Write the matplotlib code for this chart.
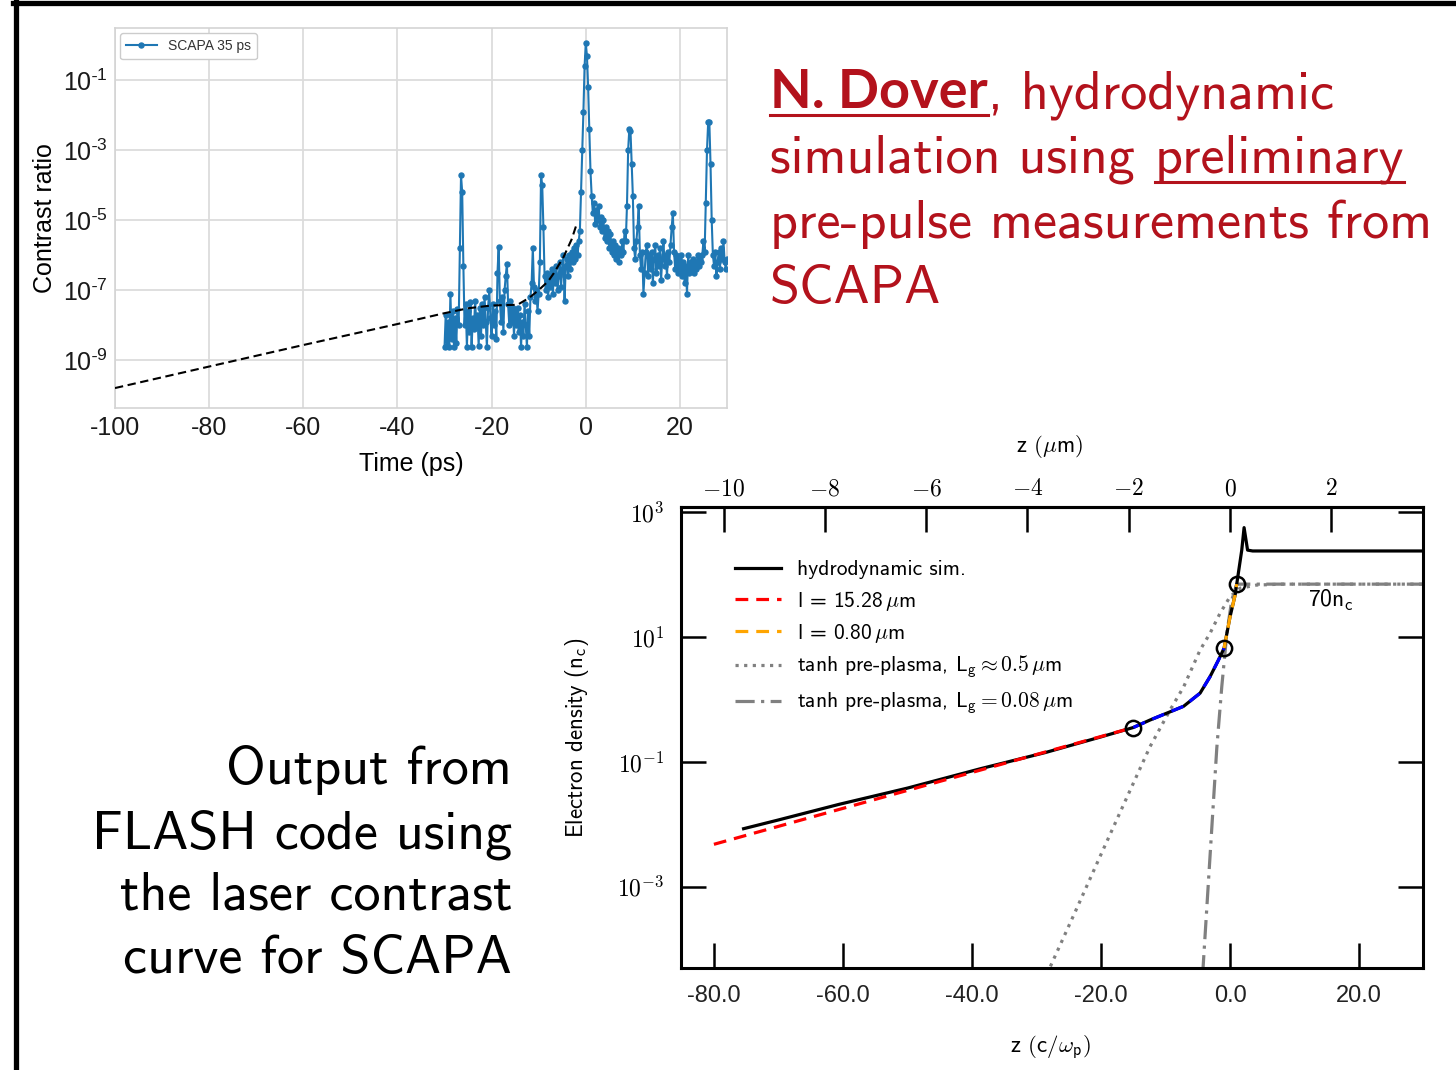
import numpy as np
import matplotlib
matplotlib.use('Agg')
import matplotlib.pyplot as plt
from matplotlib.lines import Line2D
from matplotlib.ticker import FixedLocator, FixedFormatter, FuncFormatter, NullLocator

# ---------------- data: top chart (SCAPA contrast) ----------------
time_ps = [
    -30.00, -29.75, -29.50, -29.25, -29.00, -28.75, -28.50, -28.25,
    -28.00, -27.75, -27.50, -27.25, -27.00, -26.75, -26.50, -26.25,
    -26.00, -25.75, -25.50, -25.25, -25.00, -24.75, -24.50, -24.25,
    -24.00, -23.75, -23.50, -23.25, -23.00, -22.75, -22.50, -22.25,
    -22.00, -21.75, -21.50, -21.25, -21.00, -20.75, -20.50, -20.25,
    -20.00, -19.75, -19.50, -19.25, -19.00, -18.75, -18.50, -18.25,
    -18.00, -17.75, -17.50, -17.25, -17.00, -16.75, -16.50, -16.25,
    -16.00, -15.75, -15.50, -15.25, -15.00, -14.75, -14.50, -14.25,
    -14.00, -13.75, -13.50, -13.25, -13.00, -12.75, -12.50, -12.25,
    -12.00, -11.75, -11.50, -11.25, -11.00, -10.75, -10.50, -10.25,
    -10.00, -9.75, -9.50, -9.25, -9.00, -8.75, -8.50, -8.25,
    -8.00, -7.75, -7.50, -7.25, -7.00, -6.75, -6.50, -6.25,
    -6.00, -5.75, -5.50, -5.25, -5.00, -4.75, -4.50, -4.25,
    -4.00, -3.75, -3.50, -3.25, -3.00, -2.75, -2.50, -2.25,
    -2.00, -1.75, -1.50, -1.25, -1.00, -0.75, -0.50, -0.25,
    0.00, 0.25, 0.50, 0.75, 1.00, 1.25, 1.50, 1.75,
    2.00, 2.25, 2.50, 2.75, 3.00, 3.25, 3.50, 3.75,
    4.00, 4.25, 4.50, 4.75, 5.00, 5.25, 5.50, 5.75,
    6.00, 6.25, 6.50, 6.75, 7.00, 7.25, 7.50, 7.75,
    8.00, 8.25, 8.50, 8.75, 9.00, 9.25, 9.50, 9.75,
    10.00, 10.25, 10.50, 10.75, 11.00, 11.25, 11.50, 11.75,
    12.00, 12.25, 12.50, 12.75, 13.00, 13.25, 13.50, 13.75,
    14.00, 14.25, 14.50, 14.75, 15.00, 15.25, 15.50, 15.75,
    16.00, 16.25, 16.50, 16.75, 17.00, 17.25, 17.50, 17.75,
    18.00, 18.25, 18.50, 18.75, 19.00, 19.25, 19.50, 19.75,
    20.00, 20.25, 20.50, 20.75, 21.00, 21.25, 21.50, 21.75,
    22.00, 22.25, 22.50, 22.75, 23.00, 23.25, 23.50, 23.75,
    24.00, 24.25, 24.50, 24.75, 25.00, 25.25, 25.50, 25.75,
    26.00, 26.25, 26.50, 26.75, 27.00, 27.25, 27.50, 27.75,
    28.00, 28.25, 28.50, 28.75, 29.00, 29.25, 29.50, 29.75,
    30.00,
]
contrast_log10 = [
    -8.62, -7.70, -8.60, -7.90, -8.62, -7.10, -8.40, -7.60,
    -8.62, -7.80, -8.50, -7.55, -8.00, -5.80, -3.72, -4.20,
    -6.30, -8.00, -7.40, -8.62, -7.60, -8.20, -7.35, -8.62,
    -7.80, -8.10, -7.30, -8.00, -7.70, -8.60, -7.50, -8.30,
    -7.40, -8.00, -7.20, -7.90, -8.62, -7.50, -7.00, -7.80,
    -8.30, -7.40, -8.00, -7.60, -8.40, -6.50, -5.76, -7.30,
    -7.90, -7.20, -8.20, -7.00, -6.60, -6.25, -7.40, -8.00,
    -7.30, -7.90, -7.50, -8.30, -7.60, -8.00, -7.50, -8.20,
    -7.70, -8.62, -7.90, -8.30, -7.40, -8.00, -8.62, -7.60,
    -8.30, -7.20, -6.80, -5.80, -6.90, -7.30, -7.00, -7.60,
    -7.10, -6.20, -3.72, -4.00, -5.20, -6.60, -7.00, -6.50,
    -7.20, -6.60, -6.90, -6.40, -7.10, -6.50, -6.80, -6.30,
    -7.00, -6.60, -6.20, -6.90, -6.40, -6.00, -7.30, -6.30,
    -6.10, -6.60, -6.00, -6.40, -5.90, -6.20, -5.80, -6.10,
    -5.70, -6.00, -5.60, -5.30, -4.20, -3.00, -1.90, -0.60,
    0.06, -0.30, -1.20, -2.40, -3.60, -4.30, -4.80, -4.50,
    -5.10, -4.70, -5.00, -4.60, -5.20, -4.90, -5.30, -5.00,
    -5.50, -5.20, -5.60, -5.30, -5.80, -5.40, -5.90, -5.60,
    -6.00, -5.70, -6.10, -5.80, -6.20, -5.90, -6.00, -5.60,
    -5.90, -5.30, -5.60, -4.60, -3.00, -2.40, -2.45, -3.40,
    -4.30, -5.80, -6.10, -5.60, -5.20, -4.60, -6.00, -6.40,
    -5.90, -7.10, -6.50, -5.90, -5.70, -6.60, -6.00, -6.40,
    -5.90, -6.80, -6.10, -5.70, -6.50, -6.00, -6.30, -5.80,
    -6.70, -6.10, -5.60, -6.30, -6.00, -6.60, -5.90, -6.20,
    -5.70, -5.20, -4.80, -5.90, -6.40, -6.00, -6.50, -6.10,
    -6.40, -6.00, -6.60, -6.20, -6.80, -6.30, -7.10, -6.00,
    -6.50, -6.20, -6.40, -6.10, -6.50, -6.20, -6.40, -6.00,
    -6.30, -6.10, -6.20, -6.00, -5.60, -5.90, -4.50, -3.00,
    -2.20, -2.20, -3.40, -5.00, -6.00, -6.30, -5.90, -6.60,
    -6.20, -5.90, -6.40, -5.80, -6.10, -5.60, -6.20, -6.40,
    -6.10,
]
envelope_t = [-100, -60, -40, -30, -25, -20, -14.5, -12, -10, -8, -6.8, -4.7, -3, -1.8]
envelope_log10 = [-9.80, -8.57, -7.97, -7.66, -7.52, -7.44, -7.42, -7.22, -7.00,
                  -6.75, -6.52, -6.05, -5.55, -5.06]
top_xticks = [-100, -80, -60, -40, -20, 0, 20]
top_xticklabels = ['-100', '-80', '-60', '-40', '-20', '0', '20']
top_ytick_exp = [-1, -3, -5, -7, -9]

# ---------------- data: bottom chart (FLASH density profile) ----------------
hydro_z = [-75.4, -70, -60.6, -50, -38.7, -28.6, -20, -15, -12.4, -9.8, -7.2, -4.65,
           -3.1, -1.8, -0.93, 0, 0.78, 1.03, 1.81, 2.17, 2.71, 3.5, 30]
hydro_log10 = [-2.07, -1.93, -1.68, -1.42, -1.11, -0.85, -0.60, -0.45, -0.33, -0.22,
               -0.11, 0.10, 0.365, 0.63, 0.82, 1.325, 1.67, 1.845, 2.39, 2.75, 2.39,
               2.376, 2.376]
red_z = [-80, -15]
red_log10 = [-2.32, -0.45]
blue_z = [-15, -12.4, -9.8, -7.2, -4.65, -3.1, -1.8, -0.93]
blue_log10 = [-0.45, -0.33, -0.22, -0.11, 0.10, 0.365, 0.63, 0.82]
orange_z = [-0.93, 0, 0.78, 1.03]
orange_log10 = [0.82, 1.325, 1.67, 1.845]
tanh05_z = [-28.4, -24, -20, -16, -12.4, -9.3, -7.2, -4.65, -3.1, -1.55, 0, 1.55, 4.1, 8, 30]
tanh05_log10 = [-4.40, -3.40, -2.48, -1.57, -0.755, -0.17, 0.20, 0.79, 1.06, 1.38,
                1.645, 1.78, 1.83, 1.845, 1.845]
tanh008_z = [-4.25, -2.06, -1.29, -0.5, 0.26, 1.03, 30]
tanh008_log10 = [-4.40, -0.78, 0.20, 1.06, 1.59, 1.845, 1.845]
circle_z = [-15, -0.93, 1.03]
circle_log10 = [-0.45, 0.82, 1.845]
bot_xticks = [-80, -60, -40, -20, 0, 20]
bot_xticklabels = ['-80.0', '-60.0', '-40.0', '-20.0', '0.0', '20.0']
bot_ytick_exp = [3, 1, -1, -3]
um_ticks = [-10, -8, -6, -4, -2, 0, 2]
cwp_per_um = 7.85

# ---------------- figure ----------------
W, H = 1456, 1070
plt.rcParams['mathtext.fontset'] = 'cm'
plt.rcParams['axes.unicode_minus'] = False
fig = plt.figure(figsize=(W / 100, H / 100), dpi=100)
fig.patch.set_facecolor('white')


def fx(px):
    return px / W


def fy(py):
    return 1 - py / H


# ---- top axes ----
ax1 = fig.add_axes([fx(115), fy(408), (727 - 115) / W, (408 - 28) / H])
ax1.set_facecolor('white')
ax1.set_axisbelow(True)
ax1.plot(time_ps, np.power(10.0, contrast_log10), '-o', color='#1f77b4', lw=1.5,
         ms=3.6, label='SCAPA 35 ps', zorder=3)
ax1.plot(envelope_t, np.power(10.0, envelope_log10), color='black', lw=1.5,
         linestyle=(0, (4, 2.2)), zorder=4)
ax1.set_yscale('log')
ax1.set_xlim(-100, 30)
ax1.set_ylim(10 ** -10.37, 10 ** 0.49)
ax1.xaxis.set_major_locator(FixedLocator(top_xticks))
ax1.xaxis.set_major_formatter(FixedFormatter(top_xticklabels))
ax1.yaxis.set_major_locator(FixedLocator([10.0 ** e for e in top_ytick_exp]))
ax1.yaxis.set_major_formatter(FixedFormatter(
    [r'$\mathregular{10^{\text{-}%d}}$' % (-e) for e in top_ytick_exp]))
ax1.yaxis.set_minor_locator(NullLocator())
ax1.grid(True, color='#dcdcdc', lw=1.3)
for sp in ax1.spines.values():
    sp.set_color('#d4d4d4')
    sp.set_linewidth(1.2)
ax1.tick_params(axis='x', length=0, labelsize=18, pad=6, labelcolor='#1a1a1a',
                labelfontfamily='Liberation Sans')
ax1.tick_params(axis='y', length=0, labelsize=18, pad=5, labelcolor='#1a1a1a',
                labelfontfamily='Liberation Sans')
ax1.set_xlabel('Time (ps)', fontsize=18, family='Liberation Sans', va='center')
ax1.xaxis.set_label_coords((411 - 115) / 612, -(464 - 408) / 380)
ax1.set_ylabel('Contrast ratio', fontsize=18, family='Liberation Sans', va='center')
ax1.yaxis.set_label_coords((45 - 115) / 612, 0.5)
leg1 = ax1.legend(loc='upper left', prop={'family': 'Liberation Sans', 'size': 10},
                  frameon=True, fancybox=True, edgecolor='#cccccc', framealpha=1,
                  borderaxespad=0.35, handlelength=2.2, numpoints=1, borderpad=0.45)
for t in leg1.get_texts():
    t.set_color('#333333')

# ---- bottom axes ----
ax2 = fig.add_axes([fx(681), fy(968), (1423 - 681) / W, (968 - 507) / H])
ax2.set_yscale('log')
lw = 2.3
lab_hydro = 'hydrodynamic sim.'
lab_red = r'l = 15.28$\,\mu$m'
lab_orange = r'l = 0.80$\,\mu$m'
lab_t05 = r'tanh pre-plasma, $\mathsf{L_g} \approx 0.5\,\mu$m'
lab_t008 = r'tanh pre-plasma, $\mathsf{L_g} = 0.08\,\mu$m'
ax2.plot(tanh05_z, np.power(10.0, tanh05_log10), color='#808080', lw=lw,
         linestyle=(0, (1, 1.7)), label=lab_t05, zorder=2)
ax2.plot(tanh008_z, np.power(10.0, tanh008_log10), color='#808080', lw=lw,
         linestyle=(0, (6, 2, 1, 2)), label=lab_t008, zorder=2)
ax2.plot(hydro_z, np.power(10.0, hydro_log10), color='black', lw=lw,
         label=lab_hydro, zorder=3)
ax2.plot(red_z, np.power(10.0, red_log10), color='#ff0000', lw=lw,
         linestyle=(0, (4, 2.5)), label=lab_red, zorder=4)
ax2.plot(blue_z, np.power(10.0, blue_log10), color='#0000ff', lw=lw,
         linestyle=(0, (4, 2.5)), zorder=4)
ax2.plot(orange_z, np.power(10.0, orange_log10), color='#ffa500', lw=lw,
         linestyle=(0, (4, 2.5)), label=lab_orange, zorder=4)
ax2.plot(circle_z, np.power(10.0, circle_log10), 'o', mfc='none', mec='black',
         ms=11, mew=1.8, zorder=5)
ax2.text(12.0, 10 ** 1.59, r'70n$_\mathsf{c}$', fontsize=17, family='cmss10',
         va='center', ha='left')
ax2.set_xlim(-85.1, 29.9)
ax2.set_ylim(10 ** -4.3, 10 ** 3.08)
ax2.xaxis.set_major_locator(FixedLocator(bot_xticks))
ax2.xaxis.set_major_formatter(FixedFormatter(bot_xticklabels))
ax2.yaxis.set_major_locator(FixedLocator([10.0 ** e for e in bot_ytick_exp]))
ax2.yaxis.set_major_formatter(FixedFormatter([r'$10^{%d}$' % e for e in bot_ytick_exp]))
ax2.yaxis.set_minor_locator(NullLocator())
ax2.xaxis.set_minor_locator(NullLocator())
for sp in ax2.spines.values():
    sp.set_linewidth(2.2)
ax2.tick_params(axis='both', direction='in', length=18, width=1.8, right=True,
                top=False)
ax2.tick_params(axis='x', labelsize=17, pad=12, labelfontfamily='Liberation Sans',
                labelcolor='#222222')
ax2.tick_params(axis='y', labelsize=17, pad=12)

sec = ax2.secondary_xaxis('top', functions=(lambda x: x / cwp_per_um,
                                            lambda x: x * cwp_per_um))
sec.xaxis.set_major_locator(FixedLocator(um_ticks))
sec.xaxis.set_major_formatter(FuncFormatter(lambda v, p: r'$%d$' % int(round(v))))
sec.xaxis.set_minor_locator(NullLocator())
sec.tick_params(direction='in', length=18, width=1.8, labelsize=17, pad=5)
sec.spines['top'].set_linewidth(2.2)
sec.set_xlabel(r'z $(\mu\mathsf{m})$', fontsize=16.5, family='cmss10', va='center')
sec.xaxis.set_label_coords((1050 - 681) / 742, 1 + (507 - 447) / 461,
                           transform=ax2.transAxes)

ax2.set_xlabel(r'z $(\mathsf{c}/\omega_{\mathsf{p}})$', fontsize=16.5,
               family='cmss10', va='center')
ax2.xaxis.set_label_coords((1050 - 681) / 742, -(1047 - 968) / 461)
ax2.set_ylabel(r'Electron density (n$_\mathsf{c}$)', fontsize=16.5,
               family='cmss10', va='center')
ax2.yaxis.set_label_coords((577 - 681) / 742, 0.5)

handles, labels = ax2.get_legend_handles_labels()
order = [lab_hydro, lab_red, lab_orange, lab_t05, lab_t008]
hmap = dict(zip(labels, handles))
ax2.legend([hmap[k] for k in order], order, loc='upper left',
           bbox_to_anchor=((735 - 681) / 742, 1 - (560 - 507) / 461),
           frameon=False, prop={'family': 'cmss10', 'size': 15.5},
           handlelength=2.15, handletextpad=0.75, labelspacing=0.44, borderpad=0,
           borderaxespad=0)

# ---------------- slide texts ----------------
red = '#B3121C'
renderer = fig.canvas.get_renderer()


def ftext(xp, yp, s, **kw):
    return fig.text(fx(xp), fy(yp), s, va='baseline', ha=kw.pop('ha', 'left'), **kw)


tsz = 39
t1 = ftext(770, 108, 'N. Dover', color=red, size=tsz, family='Lato', weight='bold')
b1 = t1.get_window_extent(renderer)
ftext(b1.x1, 108, ', hydrodynamic', color=red, size=tsz, family='cmss10')
fig.add_artist(Line2D([b1.x0 / W, b1.x1 / W], [fy(115), fy(115)], color=red, lw=2.2))

t2 = ftext(770, 173, 'simulation using', color=red, size=tsz, family='cmss10')
b2 = t2.get_window_extent(renderer)
t3 = ftext(b2.x1 + 20, 173, 'preliminary', color=red, size=tsz, family='cmss10')
b3 = t3.get_window_extent(renderer)
fig.add_artist(Line2D([b3.x0 / W, b3.x1 / W], [fy(182), fy(182)], color=red, lw=2.2))
ftext(770, 238, 'pre-pulse measurements from', color=red, size=tsz, family='cmss10')
ftext(770, 303, 'SCAPA', color=red, size=tsz, family='cmss10')

for txt, yb in [('Output from', 784), ('FLASH code using', 848),
                ('the laser contrast', 910), ('curve for SCAPA', 973)]:
    ftext(512, yb, txt, color='black', size=tsz, family='cmss10', ha='right')

# slide frame
fig.add_artist(Line2D([fx(13), 1.0], [fy(3), fy(3)], color='black', lw=3.8))
fig.add_artist(Line2D([fx(16), fx(16)], [fy(1), 0.0], color='black', lw=3.8))

fig.savefig('out.png', dpi=100, facecolor='white')
